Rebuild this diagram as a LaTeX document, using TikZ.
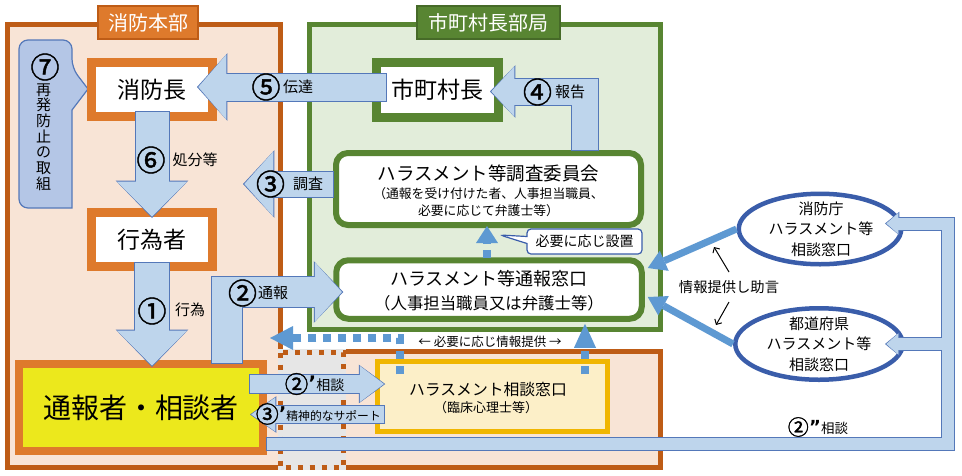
\documentclass[tikz,border=0pt]{standalone}
\usepackage{fontspec}
\setmainfont{Noto Sans CJK JP}
\newfontfamily\numfont[FakeBold=1.5]{Noto Sans CJK JP}
\newfontfamily\latfont{DejaVu Sans}
\usetikzlibrary{arrows.meta,calc,shapes.geometric,shapes.callouts}
\definecolor{fdark}{RGB}{190,92,22}
\definecolor{fpeach}{RGB}{248,228,214}
\definecolor{forange}{RGB}{222,122,44}
\definecolor{gdark}{RGB}{88,133,50}
\definecolor{glight}{RGB}{226,237,218}
\definecolor{yfill}{RGB}{236,232,28}
\definecolor{ybord}{RGB}{240,182,0}
\definecolor{ylight}{RGB}{252,239,200}
\definecolor{afill}{RGB}{190,213,236}
\definecolor{abord}{RGB}{84,120,185}
\definecolor{mblue}{RGB}{94,153,210}
\definecolor{eblue}{RGB}{58,93,170}
\definecolor{cfill}{RGB}{180,198,230}
\definecolor{dgray}{RGB}{230,230,230}
\newcommand\fatarrow[4]{%
  \pgfmathsetmacro\faW{#1+2}%
  \pgfmathsetmacro\faH{#2+2.6}%
  \pgfmathsetmacro\faL{#3+2.4}%
  \draw[draw=abord, line width=\faW pt, line join=miter, shorten <=-1pt, -{Triangle[width=\faH pt, length=\faL pt, line width=0pt]}] #4;
  \draw[draw=afill, line width=#1pt, line join=miter, shorten >=1.3pt, -{Triangle[width=#2pt, length=#3pt, line width=0pt]}] #4;}
\begin{document}
\begin{tikzpicture}[x=1pt, y=-1pt,
  box/.style={draw=forange, line width=9pt, fill=white, inner sep=0pt, minimum width=121pt, minimum height=54pt, font=\fontsize{23}{26}\selectfont},
  gbox/.style={box, draw=gdark, minimum width=122pt, minimum height=55pt},
  rbox/.style={draw=gdark, line width=6pt, fill=white, rounded corners=12pt, inner sep=0pt, minimum width=305pt},
  tab/.style={line width=1.5pt, text=white, inner sep=0pt, minimum height=33pt, font=\fontsize{20}{22}\selectfont},
  ell/.style={ellipse, draw=eblue, line width=4.5pt, fill=white, inner sep=0pt},
  num/.style={font=\fontsize{29}{29}\numfont, inner sep=0pt},
  lab/.style={font=\fontsize{15}{15}\selectfont, inner sep=0pt},
  dots/.style={draw=mblue, line width=8pt, dash pattern=on 8pt off 7pt}]
    \fill[white] (0,0) rectangle (962,475);
    \useasboundingbox (0,0) rectangle (962,475);
    \draw[fdark, line width=5pt, fill=fpeach, line join=miter] (7.5,24) -- (280.5,24) -- (280.5,351) -- (660.5,351) -- (660.5,467.5) -- (7.5,467.5) -- cycle;
    \fill[dgray] (278,348.5) rectangle (345.5,470);
    \draw[fdark, line width=5pt, dash pattern=on 5pt off 7pt] (280.5,352.5) rectangle (343,467.5);
    \draw[gdark, line width=5pt, fill=glight] (309.5,24) rectangle (660.5,329.5);
    \node[tab, draw=fdark, fill=forange, minimum width=100pt] (t-1) at (148,22.5) {消防本部};
    \node[tab, draw=gdark!80!black, fill=gdark, minimum width=143pt] (t-2) at (488.5,22.5) {市町村長部局};
    \draw[abord, fill=cfill, line width=1.2pt] (19,124) [rounded corners=9pt] -- (19,40) -- (72,40) -- (72,68) [sharp corners] -- (88,89) -- (72,110) -- (72,208) [rounded corners=9pt] -- (19,208) -- cycle;
    \node[box] (1-1) at (152,89.5) {消防長};
    \node[box] (1-2) at (152,239.5) {行為者};
    \node[box, line width=8pt, fill=yfill, minimum width=244pt, minimum height=87pt, font=\fontsize{28}{30}\selectfont] (1-3) at (141,407.5) {通報者・相談者};
    \node[gbox] (2-1) at (437.5,89.5) {市町村長};
    \node[rbox, minimum height=72pt] (2-2) at (488.5,189) {};
    \node[rbox, minimum width=305.5pt, minimum height=58.5pt] (2-3) at (489,289.5) {};
    \node[draw=ybord, line width=5pt, fill=ylight, minimum width=229.5pt, minimum height=69.5pt] (2-4) at (492.5,396.5) {};
    \node[ell, minimum width=162.5pt, minimum height=70.5pt] (3-1) at (820,229) {};
    \node[ell, minimum width=167.5pt, minimum height=71.5pt] (3-2) at (819,344) {};
    \fatarrow{27}{65}{28}{([xshift=14pt,yshift=2.5pt]2-1.west) -- ([xshift=-20pt,yshift=2.5pt]1-1.east)}
    \fatarrow{26}{50}{23}{([xshift=96pt]2-2.north) |- ([xshift=-13pt,yshift=-2pt]2-1.east)}
    \fatarrow{33}{70}{35}{([yshift=9pt]1-1.south) -- ([yshift=-10pt]1-2.north)}
    \fatarrow{34}{70}{35}{([yshift=8pt]1-2.south) -- ($(1-2.south |- 1-3.north)+(0,7)$)}
    \fatarrow{30}{59}{27}{($(1-3.north)+(86,3)$) |- ($(2-3.west)+(10,2.5)$)}
    \fatarrow{25}{65}{29}{($(2-2.west)+(0,-5)$) -- ++(-90,0)}
    \fatarrow{18}{36}{24}{($(1-3.east)+(-17,-23.5)$) -- ($(2-4.west)+(10,-12.5)$)}
    \fatarrow{17}{34}{24}{($(2-4.west)+(9,18)$) -- ($(1-3.east)+(-17,7)$)}
    \coordinate (k) at (947.5,443.5);
    \draw[abord, line width=14pt, line join=miter, shorten <=-1pt, -{Triangle[width=23.6pt, length=14.4pt, line width=0pt]}] ($(1-3.east)+(0,36)$) -- (k) |- ($(3-1.east)+(-18.5,-5.5)$);
    \draw[abord, line width=14pt, -{Triangle[width=23.6pt, length=14.4pt, line width=0pt]}] (k |- 3-2) -- ($(3-2.east)+(-20,0)$);
    \draw[afill, line width=12pt, line join=miter, shorten >=1.3pt, -{Triangle[width=21pt, length=12pt, line width=0pt]}] ($(1-3.east)+(0,36)$) -- (k) |- ($(3-1.east)+(-18.5,-5.5)$);
    \draw[afill, line width=12pt, shorten >=1.3pt, -{Triangle[width=21pt, length=12pt, line width=0pt]}] (k |- 3-2) -- ($(3-2.east)+(-20,0)$);
    \draw[mblue, line width=7pt, -{Triangle[width=22pt, length=18pt, line width=0pt]}] (3-1.west) -- ($(2-3.east)+(3,-21.5)$);
    \draw[mblue, line width=7pt, -{Triangle[width=22pt, length=18pt, line width=0pt]}] (3-2.west) -- ($(2-3.east)+(3,7.5)$);
    \coordinate (p-1) at (270,338);
    \draw[dots, -{Triangle[width=24pt, length=23pt, line width=0pt]}] ($(2-4.north)+(-92.5,15)$) |- (p-1);
    \draw[dots, -{Triangle[width=22pt, length=24pt, line width=0pt]}] ($(2-4.north)+(92.5,15)$) -- ($(2-3.south)+(96,2)$);
    \draw[dots, -{Triangle[width=22pt, length=17pt, line width=0pt]}] ($(2-3.north)+(-2,1)$) -- ($(2-2.south)+(-1.5,-2)$);
    \node[font=\fontsize{18.5}{20}\selectfont] (2-2a) at (488.5,173) {ハラスメント等調査委員会};
    \node[align=center, font=\fontsize{12.8}{17}\selectfont] (2-2b) at (488.5,202.5) {（通報を受け付けた者、人事担当職員、\\必要に応じて弁護士等）};
    \node[font=\fontsize{18}{20}\selectfont] (2-3a) at (489,279) {ハラスメント等通報窓口};
    \node[font=\fontsize{16.4}{18}\selectfont] (2-3b) at (489,303) {（人事担当職員又は弁護士等）};
    \node[font=\fontsize{15.8}{18}\selectfont] (2-4a) at (488,389) {ハラスメント相談窓口};
    \node[font=\fontsize{13}{15}\selectfont] (2-4b) at (486,408) {（臨床心理士等）};
    \node[align=center, font=\fontsize{15}{20.5}\selectfont] (3-1a) at (821,229) {消防庁\\ハラスメント等\\相談窓口};
    \node[align=center, font=\fontsize{15}{20.5}\selectfont] (3-2a) at (819,344) {都道府県\\ハラスメント等\\相談窓口};
    \node[num] (7-1) at (45,67) {⑦};
    \node[align=center, font=\fontsize{15}{15.7}\selectfont] (7-2) at (43.5,137) {再\\発\\防\\止\\の\\取\\組};
    \node[num] (n-5) at (266,87) {⑤};
    \node[lab] (l-5) at (298,87) {伝達};
    \node[num] (n-4) at (537.5,92) {④};
    \node[lab] (l-4) at (570,92) {報告};
    \node[num] (n-6) at (151,160) {⑥};
    \node[lab] (l-6) at (195,160) {処分等};
    \node[num] (n-3) at (270.5,184) {③};
    \node[lab] (l-3) at (308,184) {調査};
    \node[num] (n-1) at (152,311) {①};
    \node[lab] (l-1) at (190,310) {行為};
    \node[num] (n-2) at (242.5,293) {②};
    \node[lab] (l-2) at (273,293) {通報};
    \node[num, font=\fontsize{23.5}{24}\numfont, anchor=east] (n-2p) at (308.5,384) {②};
    \node[lab, font=\fontsize{14}{14}\selectfont, anchor=west] (l-2p) at (308.5,384) {{\latfont\bfseries\fontsize{20}{20}\selectfont ’}相談};
    \node[num, font=\fontsize{23}{23}\numfont, anchor=east] (n-3p) at (279,414) {③};
    \node[lab, font=\fontsize{11.8}{12}\selectfont, anchor=west] (l-3p) at (279,414) {{\latfont\bfseries\fontsize{19}{19}\selectfont ’}精神的なサポート};
    \node[num, font=\fontsize{21}{21}\numfont, anchor=east] (n-2pp) at (809,427) {②};
    \node[lab, font=\fontsize{13.5}{14}\selectfont, anchor=west] (l-2pp) at (809,427) {{\latfont\bfseries\fontsize{18}{18}\selectfont ”}相談};
    \node[font=\fontsize{14.3}{15}\selectfont] (4-1) at (729,287) {情報提供し助言};
    \draw[line width=1pt, -{Straight Barb[length=4pt, width=8pt]}] ($(4-1)+(0,-15)$) -- ++(-15,-25);
    \draw[line width=1pt, -{Straight Barb[length=4pt, width=8pt]}] ($(4-1)+(0,15)$) -- ++(-13,23);
    \node[rectangle callout, draw=eblue, fill=white, line width=1.2pt, rounded corners=4pt, minimum width=115pt, minimum height=25pt, inner sep=0pt, callout absolute pointer={(500,235)}, callout pointer width=7pt, font=\fontsize{14}{14}\selectfont] (5-1) at (584.5,241.5) {必要に応じ設置};
    \node[font=\fontsize{12.5}{13}\selectfont] (6-1) at (490,342) {← 必要に応じ情報提供 →};
\end{tikzpicture}
\end{document}
